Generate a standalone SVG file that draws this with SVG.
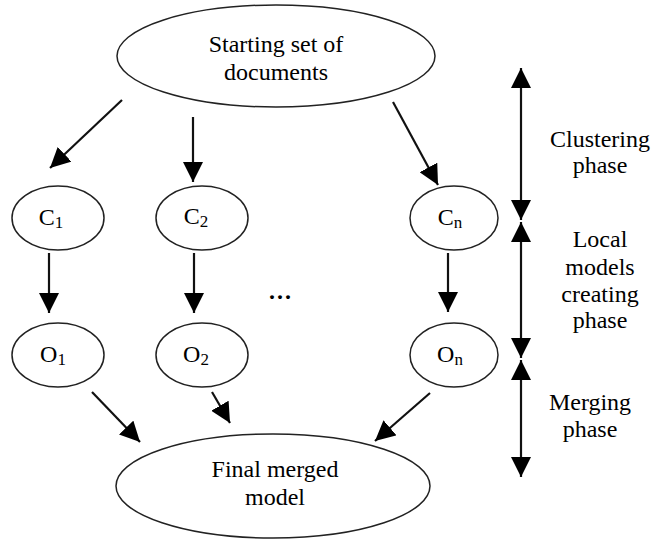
<svg xmlns="http://www.w3.org/2000/svg" width="653" height="540" viewBox="0 0 653 540">
<defs>
<marker id="ah" viewBox="0 0 20 20" refX="20" refY="10" markerWidth="20" markerHeight="20" markerUnits="userSpaceOnUse" orient="auto-start-reverse">
<path d="M0,0 L20,10 L0,20 z" fill="#000"/>
</marker>
</defs>
<style>
.node{fill:#fff;stroke:#222;stroke-width:1.5}
.t{font-family:'Liberation Serif','DejaVu Serif',serif;font-size:24px;fill:#000;text-anchor:middle}
.s{font-size:17px}
.e{stroke:#111;stroke-width:2.2;fill:none;marker-end:url(#ah)}
.d{stroke:#111;stroke-width:2.2;fill:none;marker-start:url(#ah);marker-end:url(#ah)}
</style>
<rect width="653" height="540" fill="#fff"/>
<g font-family="Liberation Serif, DejaVu Serif, serif">
<g id="start">
<ellipse class="node" cx="276" cy="56" rx="159" ry="51"/>
<text class="t" x="276" y="52">Starting set of</text>
<text class="t" x="276" y="80">documents</text>
</g>
<g id="c1">
<ellipse class="node" cx="58" cy="218" rx="46" ry="32"/>
<text class="t" x="51" y="225">C<tspan class="s" dy="3">1</tspan></text>
</g>
<g id="c2">
<ellipse class="node" cx="202" cy="218" rx="46" ry="32"/>
<text class="t" x="196" y="224">C<tspan class="s" dy="3">2</tspan></text>
</g>
<g id="cn">
<ellipse class="node" cx="454" cy="218" rx="44" ry="32"/>
<text class="t" x="450" y="225">C<tspan class="s" dy="3">n</tspan></text>
</g>
<g id="o1">
<ellipse class="node" cx="58" cy="355" rx="46" ry="32"/>
<text class="t" x="53" y="362">O<tspan class="s" dy="3">1</tspan></text>
</g>
<g id="o2">
<ellipse class="node" cx="202" cy="355" rx="46" ry="32"/>
<text class="t" x="196" y="362">O<tspan class="s" dy="3">2</tspan></text>
</g>
<g id="on">
<ellipse class="node" cx="454" cy="355" rx="44" ry="32"/>
<text class="t" x="450" y="362">O<tspan class="s" dy="3">n</tspan></text>
</g>
<g id="final">
<ellipse class="node" cx="273" cy="486" rx="157" ry="52"/>
<text class="t" x="275" y="477">Final merged</text>
<text class="t" x="275" y="505">model</text>
</g>
<g id="dots">
<text class="t" x="281" y="299" font-weight="bold" letter-spacing="2">...</text>
</g>
<g id="phases">
<text class="t" x="600" y="147">Clustering</text>
<text class="t" x="600" y="173">phase</text>
<text class="t" x="600" y="247">Local</text>
<text class="t" x="600" y="275">models</text>
<text class="t" x="600" y="302">creating</text>
<text class="t" x="600" y="328">phase</text>
<text class="t" x="590" y="410">Merging</text>
<text class="t" x="590" y="437">phase</text>
</g>
</g>
<g id="connectors">
<line class="e" x1="122" y1="100" x2="50" y2="168"/>
<line class="e" x1="193" y1="117" x2="193" y2="182"/>
<line class="e" x1="393" y1="102" x2="438" y2="185"/>
<line class="e" x1="49" y1="253" x2="49" y2="313"/>
<line class="e" x1="194" y1="253" x2="194" y2="313"/>
<line class="e" x1="448" y1="253" x2="448" y2="312"/>
<line class="e" x1="92" y1="392" x2="140" y2="442"/>
<line class="e" x1="212" y1="392" x2="230" y2="423"/>
<line class="e" x1="430" y1="393" x2="375" y2="441"/>
<line class="d" x1="521" y1="68" x2="521" y2="220"/>
<line class="d" x1="521" y1="222" x2="521" y2="358"/>
<line class="d" x1="521" y1="360" x2="521" y2="477"/>
</g>
</svg>
